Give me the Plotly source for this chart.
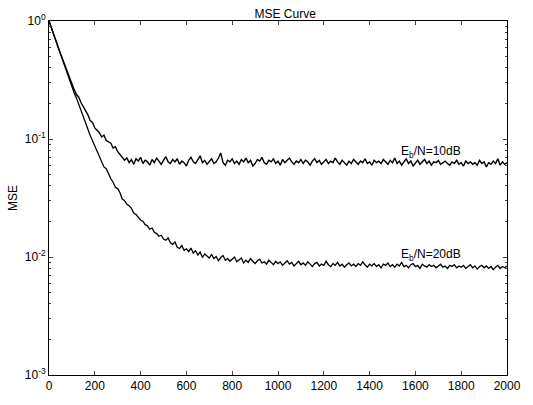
import math
import plotly.graph_objects as go

# ---- data, one value every 10 iterations ----
step = 10
mse_10db = [
    1.0, 0.87, 0.77, 0.68, 0.60, 0.53, 0.47, 0.41, 0.37, 0.32, 0.285,
    0.262, 0.238, 0.226, 0.203, 0.188, 0.171, 0.160, 0.143, 0.138, 0.124,
    0.119, 0.113, 0.104, 0.108, 0.097, 0.094, 0.092, 0.084, 0.086, 0.078,
    0.074, 0.071, 0.066, 0.069,
    0.063, 0.067, 0.061, 0.068, 0.065, 0.070, 0.062, 0.066, 0.064, 0.060,
    0.067, 0.063, 0.069, 0.065, 0.061, 0.066, 0.071, 0.064, 0.062, 0.067,
    0.064, 0.068, 0.061, 0.065, 0.063, 0.059, 0.066, 0.070, 0.064, 0.062,
    0.067, 0.072, 0.063, 0.066, 0.061, 0.065, 0.068, 0.062, 0.064, 0.069,
    0.076, 0.063, 0.060, 0.066, 0.064, 0.068, 0.062, 0.065, 0.061, 0.067,
    0.064, 0.069, 0.063, 0.066, 0.059, 0.062, 0.067, 0.065, 0.070, 0.063,
    0.061, 0.066, 0.064, 0.068, 0.062, 0.065, 0.060, 0.067, 0.063, 0.066,
    0.069, 0.064, 0.061, 0.065, 0.063, 0.067, 0.062, 0.066, 0.064, 0.060,
    0.065, 0.068, 0.063, 0.066, 0.061, 0.064, 0.067, 0.062, 0.065, 0.063,
    0.069, 0.064, 0.061, 0.066, 0.063, 0.060, 0.065, 0.062, 0.067, 0.064,
    0.061, 0.065, 0.063, 0.068, 0.062, 0.064, 0.060, 0.066, 0.063, 0.065,
    0.062, 0.067, 0.064, 0.061, 0.066, 0.063, 0.069, 0.062, 0.065, 0.060,
    0.064, 0.068, 0.062, 0.065, 0.059, 0.063, 0.066, 0.061, 0.064, 0.067,
    0.062, 0.065, 0.060, 0.064, 0.063, 0.066, 0.061, 0.063, 0.065, 0.062,
    0.060, 0.064, 0.062, 0.066, 0.061, 0.063, 0.059, 0.065, 0.062, 0.064,
    0.061, 0.063, 0.060, 0.066, 0.062, 0.064, 0.058, 0.063, 0.061, 0.065,
    0.062, 0.068, 0.060, 0.064, 0.061, 0.063,
]
mse_20db = [
    1.0, 0.88, 0.77, 0.67, 0.59, 0.52, 0.46, 0.40, 0.35, 0.31, 0.275,
    0.245, 0.222, 0.198, 0.172, 0.153, 0.136, 0.121, 0.107, 0.097, 0.086,
    0.079, 0.071, 0.066, 0.058, 0.056, 0.050, 0.046, 0.043, 0.039, 0.038,
    0.035, 0.031, 0.030, 0.028, 0.0272, 0.0258, 0.0236, 0.0229, 0.0217, 0.0206,
    0.0201, 0.0188, 0.0183, 0.0172, 0.0176, 0.0162, 0.0158, 0.0150, 0.0153, 0.0142,
    0.0139, 0.0145, 0.0132, 0.0128, 0.0134, 0.0121, 0.0118, 0.0125, 0.0114, 0.0117,
    0.0111, 0.0119, 0.0108, 0.0113, 0.0104, 0.0110, 0.0099, 0.0106, 0.0102, 0.0098,
    0.0105, 0.0097, 0.0101, 0.0093, 0.0099, 0.0103, 0.0094, 0.0097, 0.0092, 0.0096,
    0.0100, 0.0091, 0.0095, 0.0098, 0.0089, 0.0094, 0.0090, 0.0097, 0.0092, 0.0088,
    0.0093, 0.0096, 0.0089, 0.0091, 0.0087, 0.0094, 0.0090, 0.0086, 0.0092, 0.0088,
    0.0091, 0.0085, 0.0089, 0.0093, 0.0087, 0.0090, 0.0084, 0.0088, 0.0092, 0.0086,
    0.0089, 0.0085, 0.0091, 0.0087, 0.0083, 0.0088, 0.0090, 0.0084, 0.0087, 0.0085,
    0.0092, 0.0086, 0.0083, 0.0088, 0.0085, 0.0090, 0.0084, 0.0087, 0.0082, 0.0086,
    0.0089, 0.0084, 0.0087, 0.0083, 0.0088, 0.0085, 0.0091, 0.0086, 0.0082, 0.0087,
    0.0084, 0.0088, 0.0083, 0.0086, 0.0081, 0.0087, 0.0085, 0.0089, 0.0083, 0.0086,
    0.0082, 0.0087, 0.0084, 0.0090, 0.0083, 0.0085, 0.0081, 0.0086, 0.0088, 0.0083,
    0.0085, 0.0080, 0.0087, 0.0084, 0.0082, 0.0086, 0.0083, 0.0085, 0.0081, 0.0084,
    0.0087, 0.0082, 0.0084, 0.0080, 0.0085, 0.0083, 0.0086, 0.0081, 0.0084, 0.0082,
    0.0085, 0.0080, 0.0083, 0.0086, 0.0081, 0.0084, 0.0079, 0.0083, 0.0085, 0.0081,
    0.0084, 0.0080, 0.0083, 0.0078, 0.0082, 0.0085, 0.0080, 0.0083, 0.0081, 0.0084,
]
x_ticks = [0, 200, 400, 600, 800, 1000, 1200, 1400, 1600, 1800, 2000]
y_ticks = [1e-3, 1e-2, 1e-1, 1]
y_ticktext = ["10<sup>-3</sup>", "10<sup>-2</sup>", "10<sup>-1</sup>", "10<sup>0</sup>"]
labels = ["E<sub>b</sub>/N=10dB", "E<sub>b</sub>/N=20dB"]
label_x = [1670, 1670]
label_y = [0.077, 0.0103]

x10 = [i * step for i in range(len(mse_10db))]
x20 = [i * step for i in range(len(mse_20db))]

FONT = "Liberation Sans"
FS = 12

fig = go.Figure()
fig.add_trace(go.Scatter(x=x10, y=mse_10db, mode="lines",
                         line=dict(color="black", width=1.4), showlegend=False))
fig.add_trace(go.Scatter(x=x20, y=mse_20db, mode="lines",
                         line=dict(color="black", width=1.3), showlegend=False))

# annotations on a log axis take log10 of the value
for t, lx, ly in zip(labels, label_x, label_y):
    fig.add_annotation(x=lx, y=math.log10(ly), yref="y", xref="x", text=t,
                       showarrow=False,
                       font=dict(family=FONT, size=FS, color="black"))

minor_vals = []
for d in [1e-3, 1e-2, 1e-1]:
    for k in range(2, 10):
        minor_vals.append(d * k)

fig.update_layout(
    width=533, height=405,
    margin=dict(l=45, r=26, t=14, b=26),
    paper_bgcolor="white", plot_bgcolor="white",
    font=dict(family=FONT, size=FS, color="black"),
    title=dict(text="MSE Curve", x=0.535, xanchor="center", y=0.967, yanchor="middle",
               font=dict(family=FONT, size=FS, color="black")),
    xaxis=dict(range=[0, 2000], tickvals=x_ticks, ticks="inside", ticklen=4,
               showline=True, linecolor="black", linewidth=1, mirror="ticks",
               showgrid=False, zeroline=False, tickfont=dict(size=FS)),
    yaxis=dict(type="log", range=[-3, 0], tickvals=y_ticks, ticktext=y_ticktext,
               ticks="inside", ticklen=4, showline=True, linecolor="black", linewidth=1,
               mirror="ticks", showgrid=False, zeroline=False,
               minor=dict(tickvals=minor_vals, ticks="inside", ticklen=2, showgrid=False),
               title=dict(text="MSE", standoff=4, font=dict(size=FS)),
               tickfont=dict(size=FS)),
)

fig.write_html("out.html")
